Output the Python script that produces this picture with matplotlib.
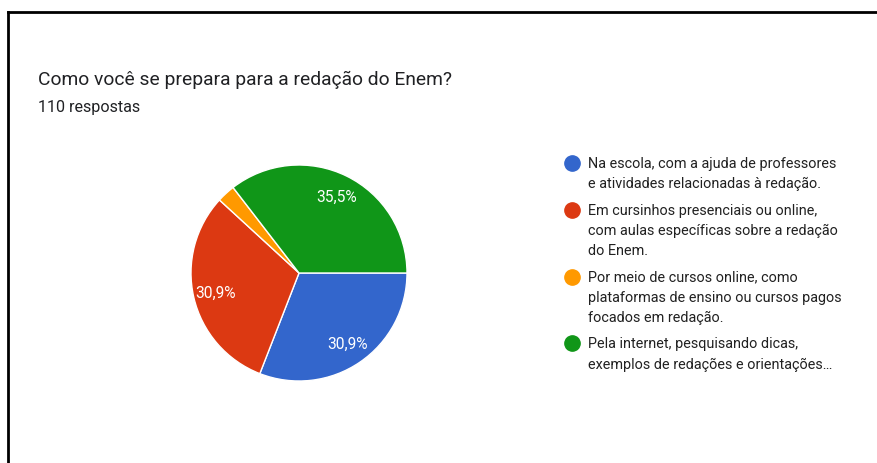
import matplotlib
matplotlib.use("Agg")
import matplotlib.pyplot as plt
from matplotlib.lines import Line2D

plt.rcParams['font.family'] = ['Roboto', 'DejaVu Sans']

title = "Como você se prepara para a redação do Enem?"
subtitle = "110 respostas"
categories = [
    "Na escola, com a ajuda de professores\ne atividades relacionadas à redação.",
    "Em cursinhos presenciais ou online,\ncom aulas específicas sobre a redação\ndo Enem.",
    "Por meio de cursos online, como\nplataformas de ensino ou cursos pagos\nfocados em redação.",
    "Pela internet, pesquisando dicas,\nexemplos de redações e orientações…",
]
counts = [34, 34, 3, 39]
colors = ["#3366cc", "#dc3912", "#ff9900", "#109618"]

W, H = 878, 464
fig = plt.figure(figsize=(W / 100, H / 100), dpi=100)
fig.patch.set_facecolor("white")

# border (top and left)
fig.add_artist(Line2D([8 / W, 1], [1 - 13 / H, 1 - 13 / H], color="black", lw=2))
fig.add_artist(Line2D([8 / W, 8 / W], [0, 1 - 13 / H], color="black", lw=2))

fig.text(38 / W, 1 - 80 / H, title, fontsize=13.9, color="#202124", va="center", ha="left")
fig.text(38 / W, 1 - 108 / H, subtitle, fontsize=11.6, color="#202124", va="center", ha="left")

cx, cy, r = 299, 274, 108
ax = fig.add_axes([(cx - r) / W, (H - cy - r) / H, 2 * r / W, 2 * r / H])

def fmt(p):
    return ("%.1f%%" % p).replace(".", ",") if p > 5 else ""

wedges, texts, autotexts = ax.pie(
    counts, colors=colors, startangle=0, counterclock=False,
    autopct=fmt, pctdistance=0.79,
    wedgeprops=dict(edgecolor="white", linewidth=1),
    textprops=dict(color="white", fontsize=11.2),
)
ax.set_aspect("equal")
ax.set_xlim(-1, 1)
ax.set_ylim(-1, 1)

# legend
line_h = 20.2
gap = 6.3
y = 164
for lab, col in zip(categories, colors):
    fig.add_artist(Line2D([572 / W], [1 - y / H], marker="o", markersize=11,
                          color=col, linestyle="none"))
    for ln in lab.split("\n"):
        fig.text(588 / W, 1 - y / H, ln, fontsize=10.4, color="#212121",
                 va="center", ha="left")
        y += line_h
    y += gap

fig.savefig("out.png", dpi=100, facecolor="white")
